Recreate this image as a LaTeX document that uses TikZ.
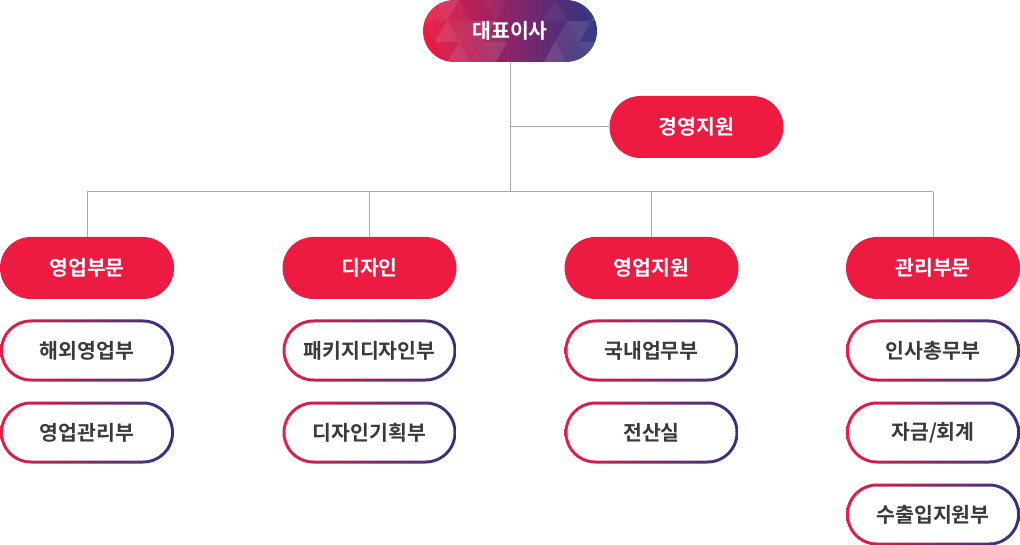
\documentclass[tikz,border=0pt]{standalone}
\usepackage{fontspec}
\setmainfont{Noto Sans CJK KR}[BoldFont={Noto Sans CJK KR Bold}]
\usetikzlibrary{shapes.misc}
\definecolor{cred}{HTML}{ED1B42}
\definecolor{cblue}{HTML}{2A3582}
\definecolor{cmid}{HTML}{8A2468}
\definecolor{ctext}{HTML}{3A3A3A}
\definecolor{cline}{HTML}{AAAAAA}
\tikzset{
  pill/.style={rounded rectangle, minimum width=174pt, minimum height=62pt, inner sep=0pt},
  redbox/.style={pill, fill=cred, text=white, font=\fontsize{20.5}{22}\selectfont\bfseries},
  subouter/.style={pill, left color=cred, right color=cblue},
  subinner/.style={rounded rectangle, minimum width=168pt, minimum height=56pt, inner sep=0pt, fill=white, text=ctext, font=\fontsize{20.5}{22}\selectfont\bfseries},
  conn/.style={draw=cline, line width=1pt},
}
\begin{document}
\begin{tikzpicture}[x=1pt,y=-1pt]
\useasboundingbox (0,0) rectangle (1020,545);
% top node
\node[pill, left color=cred, right color=cblue, middle color=cmid] (ceo) at (510,31) {};
\begin{scope}
  \clip[rounded corners=31pt] (ceo.west |- ceo.north) rectangle (ceo.east |- ceo.south);
  \foreach \r in {0,1,2}{
    \foreach \c in {-1,0,1,2,5,6,7}{
      \pgfmathsetmacro{\xa}{423 + \c*24 + mod(\r,2)*12}
      \pgfmathsetmacro{\xb}{\xa+24}
      \pgfmathsetmacro{\xm}{\xa+12}
      \pgfmathsetmacro{\xc}{\xa+36}
      \pgfmathsetmacro{\ya}{\r*21}
      \pgfmathsetmacro{\yb}{\r*21+21}
      \pgfmathsetmacro{\op}{mod(\r*5+\c*7+30,4)*0.045}
      \pgfmathsetmacro{\opd}{mod(\r*3+\c*5+31,4)*0.04}
      \fill[white, opacity=\op] (\xa,\yb) -- (\xb,\yb) -- (\xm,\ya) -- cycle;
      \fill[white, opacity=\opd] (\xm,\ya) -- (\xc,\ya) -- (\xb,\yb) -- cycle;
    }
  }
\end{scope}
\node[text=white, font=\fontsize{20.5}{22}\selectfont\bfseries] (ceotext) at (ceo.center) {대표이사};
\node[redbox] (mgmt) at (696.5,127) {경영지원};
% departments
\node[redbox] (d1) at (87,268) {영업부문};
\node[redbox] (d2) at (369.5,268) {디자인};
\node[redbox] (d3) at (651.5,268) {영업지원};
\node[redbox] (d4) at (933,268) {관리부문};
% sub boxes
\foreach \nm/\x/\y/\t in {a1/87/350.5/{해외영업부}, a2/87/432.5/{영업관리부},
  b1/369.5/350.5/{패키지디자인부}, b2/369.5/432.5/{디자인기획부},
  c1/651.5/350.5/{국내업무부}, c2/651.5/432.5/{전산실},
  e1/933/350.5/{인사총무부}, e2/933/432.5/{자금/회계}, e3/933/514.5/{수출입지원부}}{
  \node[subouter] (\nm) at (\x,\y) {};
  \node[subinner] (\nm t) at (\nm.center) {\t};
}
% connectors
\coordinate (busL) at (87,192);
\coordinate (busR) at (933,192);
\draw[conn] (busL) -- (busR);
\draw[conn] (ceo.south) -- (ceo.south |- busL);
\draw[conn] (ceo.south |- mgmt.west) -- (mgmt.west);
\draw[conn] (d1.north |- busL) -- (d1.north);
\draw[conn] (d2.north |- busL) -- (d2.north);
\draw[conn] (d3.north |- busL) -- (d3.north);
\draw[conn] (d4.north |- busL) -- (d4.north);
\end{tikzpicture}
\end{document}
